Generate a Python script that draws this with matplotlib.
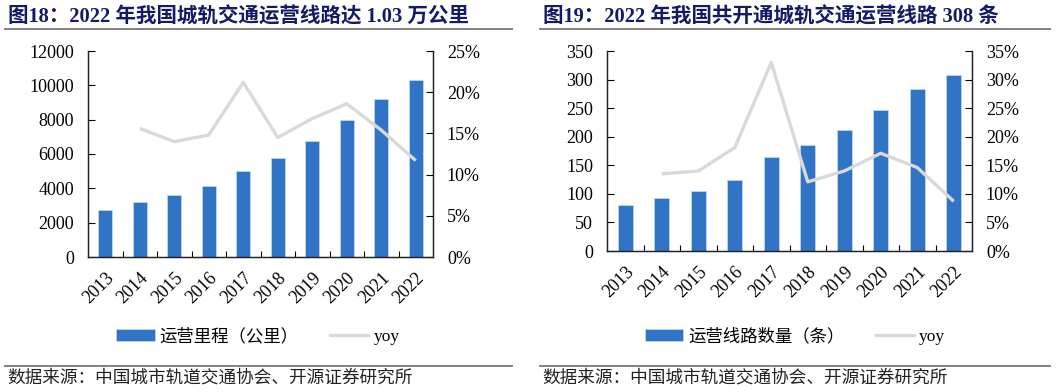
import matplotlib.pyplot as plt
from matplotlib.patches import Patch
from matplotlib.lines import Line2D
from matplotlib.ticker import FuncFormatter, FixedLocator
import numpy as np

# 数据
years = ['2013', '2014', '2015', '2016', '2017', '2018', '2019', '2020', '2021', '2022']
km = [2746, 3180, 3612, 4153, 5033, 5766, 6730, 7978, 9206, 10287]
km_yoy = [None, 15.6, 14.0, 14.8, 21.2, 14.5, 16.8, 18.6, 15.4, 11.7]
lines = [81, 92, 105, 124, 165, 185, 211, 247, 283, 308]
lines_yoy = [None, 13.5, 14.0, 18.1, 33.0, 12.1, 14.0, 17.1, 14.6, 8.7]

titles = ['图18：2022 年我国城轨交通运营线路达 1.03 万公里',
          '图19：2022 年我国共开通城轨交通运营线路 308 条']
bar_labels = ['运营里程（公里）', '运营线路数量（条）']
source = '数据来源：中国城市轨道交通协会、开源证券研究所'

BLUE = '#3173C4'
GREY = '#D9D9D9'
SERIF = ['Liberation Serif', 'Noto Sans CJK SC']
W, H = 1057, 392

fig = plt.figure(figsize=(W / 100, H / 100), dpi=100)


def px(x, y, w, h):
    return [x / W, 1 - (y + h) / H, w / W, h / H]


def draw_panel(rect, vals, yoy, ymax, ystep, rmax, label, leg_x):
    ax = fig.add_axes(rect)
    x = np.arange(len(years))
    ax.bar(x, vals, width=0.4, color=BLUE, edgecolor='#BDD7EE', linewidth=0.6, zorder=2)
    ax.set_xlim(-0.5, len(years) - 0.5)
    ax.set_ylim(0, ymax)
    ax.set_yticks(np.arange(0, ymax + 1, ystep))
    ax.set_xticks(x)
    ax.set_xticklabels(years, rotation=45, ha='right', va='top', rotation_mode='anchor',
                       family=SERIF, fontsize=13)
    ax.tick_params(axis='x', length=0, pad=9)
    ax.xaxis.set_minor_locator(FixedLocator(np.arange(0.5, len(years) - 1, 1)))
    ax.tick_params(axis='x', which='minor', direction='in', length=4, width=0.8)
    ax.tick_params(axis='y', direction='in', length=5, width=0.8, pad=10, labelsize=13)
    for t in ax.get_yticklabels():
        t.set_family(SERIF)
    ax.spines['top'].set_visible(False)

    ax2 = ax.twinx()
    yx = [i for i, v in enumerate(yoy) if v is not None]
    yv = [v for v in yoy if v is not None]
    ax2.plot(yx, yv, color=GREY, linewidth=2.4, zorder=3, solid_capstyle='butt')
    ax2.set_ylim(0, rmax)
    ax2.set_yticks(np.arange(0, rmax + 1, 5))
    ax2.yaxis.set_major_formatter(FuncFormatter(lambda v, p: f'{v:.0f}%'))
    ax2.tick_params(axis='y', direction='in', length=5, width=0.8, pad=10, labelsize=13)
    for t in ax2.get_yticklabels():
        t.set_family(SERIF)
    ax2.spines['top'].set_visible(False)
    for a in (ax, ax2):
        for s in a.spines.values():
            s.set_linewidth(0.9)
            s.set_color('#222222')

    handles = [Patch(facecolor=BLUE, edgecolor='#BDD7EE', linewidth=0.6),
               Line2D([], [], color=GREY, linewidth=2.4)]
    fig.legend(handles, [label, 'yoy'], loc='center', bbox_to_anchor=(leg_x / W, 1 - 337 / H),
               ncol=2, frameon=False, prop={'family': SERIF, 'size': 12.5},
               handlelength=2.2, handleheight=0.7, columnspacing=1.8, handletextpad=0.3)
    return ax


draw_panel(px(88, 51, 345, 206), km, km_yoy, 12000, 2000, 25, bar_labels[0], 258)
draw_panel(px(607, 51, 365, 200), lines, lines_yoy, 350, 50, 35, bar_labels[1], 795)

# 标题、分隔线、来源
for x0, x1, t in [(5, 512, titles[0]), (540, 1050, titles[1])]:
    fig.text((x0 + 3) / W, 1 - 17 / H, t, family=SERIF, fontsize=14.8, fontweight='bold',
             color='#141A66', va='center', ha='left')
    for yy in (29, 366):
        fig.add_artist(Line2D([x0 / W, x1 / W], [1 - yy / H, 1 - yy / H],
                              color='#808080', linewidth=1.4))
    fig.text((x0 + 2) / W, 1 - 378 / H, source, family=['Noto Sans CJK SC'], fontsize=12.7,
             color='#222222', va='center', ha='left')

fig.savefig('out.png', dpi=100)
